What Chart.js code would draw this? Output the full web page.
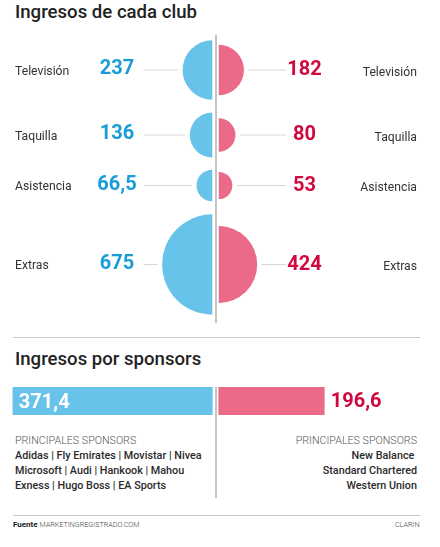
<!DOCTYPE html>
<html>

<head>
  <title>Ingresos de cada club</title>
  <meta content="text/html;charset=utf-8" http-equiv="Content-Type">
  <script src="https://cdn.jsdelivr.net/npm/chart.js"></script>
  <style>
    body { margin: 0; background: #fff; font-family: Roboto, sans-serif; color: #222; }
    #page { position: relative; width: 440px; height: 547px; overflow: hidden; }
    #page > * { position: absolute; }
    .title { left: 15px; font-size: 18.6px; font-weight: 500; line-height: 24px; white-space: nowrap; }
    .rule { left: 13px; width: 407px; height: 1px; background: #c8c8c8; }
    .axis { left: 215px; width: 1.5px; background: #c4c4c4; }
    .list { font-size: 10.8px; font-weight: 500; line-height: 15.2px; white-space: pre; color: #2a2a2a; }
    .list b { display: block; font-weight: 300; font-size: 10.7px; color: #555; }
    .foot { font-size: 7.2px; font-weight: 300; color: #444; white-space: nowrap; line-height: 10px; }
    .foot b { font-weight: 700; font-size: 8px; color: #222; }
  </style>
</head>

<body>
  <div id="page">
    <div class="title" style="top:0">Ingresos de cada club</div>
    <div class="axis" style="top:35px;height:288px"></div>
    <canvas id="circles" width="440" height="330" style="left:0;top:0"></canvas>
    <div class="rule" style="top:337px"></div>
    <div class="title" style="top:347px">Ingresos por sponsors</div>
    <div class="axis" style="top:387px;height:111px"></div>
    <canvas id="bars" width="440" height="40" style="left:0;top:381px"></canvas>
    <div class="list" id="listLeft" style="left:15px;top:432.5px"></div>
    <div class="list" id="listRight" style="right:23px;top:432.5px;text-align:right"></div>
    <div class="rule" style="top:514.5px"></div>
    <div class="foot" style="left:13px;top:520px"><b>Fuente</b> MARKETINGREGISTRADO.COM</div>
    <div class="foot" style="right:20.5px;top:520px">CLARIN</div>
  </div>

  <script>
    const categories = ['Televisión', 'Taquilla', 'Asistencia', 'Extras'];
    const leftValues = [237, 136, 66.5, 675];
    const rightValues = [182, 80, 53, 424];
    const leftLabels = ['237', '136', '66,5', '675'];
    const rightLabels = ['182', '80', '53', '424'];

    const sponsorLeftValue = 371.4;
    const sponsorRightValue = 196.6;
    const sponsorHeading = 'PRINCIPALES SPONSORS';
    const sponsorsLeft = ['Adidas | Fly Emirates | Movistar | Nivea', 'Microsoft | Audi | Hankook | Mahou', 'Exness | Hugo Boss | EA Sports'];
    const sponsorsRight = ['New Balance ', 'Standard Chartered', 'Western Union'];

    // layout of the rows, in px of the top canvas
    const rowY = [70, 135, 185.5, 264.5];
    const blue = '#67c3ea', pink = '#ea6a87';
    const blueText = '#1a9cd8', redText = '#d0093f';

    document.getElementById('listLeft').innerHTML = `<b>${sponsorHeading}</b>` + sponsorsLeft.join('\n');
    document.getElementById('listRight').innerHTML = `<b>${sponsorHeading}</b>` + sponsorsRight.join('\n');

    // both x axes fill the canvas, 0 sits either side of the centre line
    const scaleK = 0.537;
    const leftEdge = 212.3, rightEdge = 218.7;
    const xAxes = {
      xL: { type: 'linear', display: false, reverse: true, min: (leftEdge - 440) / scaleK, max: leftEdge / scaleK },
      xR: { type: 'linear', display: false, min: -rightEdge / scaleK, max: (440 - rightEdge) / scaleK }
    };

    function drawText(ctx, text, x, y, font, color, align) {
      ctx.font = font;
      ctx.fillStyle = color;
      ctx.textAlign = align;
      ctx.textBaseline = 'middle';
      ctx.fillText(text, x, y);
    }

    const rowLabels = {
      id: 'rowLabels',
      afterDatasetsDraw(chart) {
        const ctx = chart.ctx;
        const sides = [
          { meta: chart.getDatasetMeta(0), texts: leftLabels, color: blueText, lineFrom: 144, sign: -1, valueX: 117 },
          { meta: chart.getDatasetMeta(1), texts: rightLabels, color: redText, lineFrom: 286, sign: 1, valueX: 304.5 }
        ];
        ctx.save();
        sides.forEach((side, s) => {
          side.meta.data.forEach((point, i) => {
            const edge = point.x + side.sign * (point.options.radius + 4.5);
            ctx.strokeStyle = '#d6d6d6';
            ctx.lineWidth = 1;
            ctx.beginPath();
            ctx.moveTo(side.lineFrom, point.y);
            ctx.lineTo(edge, point.y);
            ctx.stroke();
            drawText(ctx, side.texts[i], side.valueX, point.y + (s ? 0 : -1), '700 20px Roboto', side.color, 'center');
            drawText(ctx, categories[i], s ? 417 : 15, point.y + (s ? 2.5 : 1.5), '400 12.2px Roboto', '#333', s ? 'right' : 'left');
          });
        });
        ctx.restore();
      }
    };

    new Chart(document.getElementById('circles'), {
      type: 'bubble',
      data: {
        datasets: [
          {
            data: leftValues.map((v, i) => ({ x: 0, y: rowY[i], r: Math.sqrt(v) * 1.93 })),
            backgroundColor: blue, borderWidth: 0, xAxisID: 'xL',
            clip: { left: 0, top: 0, bottom: 0, right: leftEdge - 440 }
          },
          {
            data: rightValues.map((v, i) => ({ x: 0, y: rowY[i], r: Math.sqrt(v) * 1.87 })),
            backgroundColor: pink, borderWidth: 0, xAxisID: 'xR',
            clip: { left: -rightEdge, top: 0, bottom: 0, right: 0 }
          }
        ]
      },
      options: {
        responsive: false,
        animation: false,
        layout: { autoPadding: false },
        plugins: { legend: { display: false }, tooltip: { enabled: false } },
        scales: {
          ...xAxes,
          y: { type: 'linear', display: false, reverse: true, min: 0, max: 330 }
        }
      },
      plugins: [rowLabels]
    });

    const barLabels = {
      id: 'barLabels',
      afterDatasetsDraw(chart) {
        const ctx = chart.ctx;
        const left = chart.getDatasetMeta(0).data[0];
        const right = chart.getDatasetMeta(1).data[0];
        ctx.save();
        drawText(ctx, '371,4', left.x + 6, left.y + 1.5, '700 20px Roboto', '#fff', 'left');
        drawText(ctx, '196,6', right.x + 6.5, right.y + 0.5, '700 20px Roboto', redText, 'left');
        ctx.restore();
      }
    };

    new Chart(document.getElementById('bars'), {
      type: 'bar',
      data: {
        labels: ['Sponsors'],
        datasets: [
          { data: [sponsorLeftValue], backgroundColor: blue, xAxisID: 'xL', barThickness: 27.4, grouped: false },
          { data: [sponsorRightValue], backgroundColor: pink, xAxisID: 'xR', barThickness: 27.4, grouped: false }
        ]
      },
      options: {
        indexAxis: 'y',
        responsive: false,
        animation: false,
        layout: { autoPadding: false },
        plugins: { legend: { display: false }, tooltip: { enabled: false } },
        scales: {
          ...xAxes,
          y: { display: false }
        }
      },
      plugins: [barLabels]
    });
  </script>
</body>

</html>
